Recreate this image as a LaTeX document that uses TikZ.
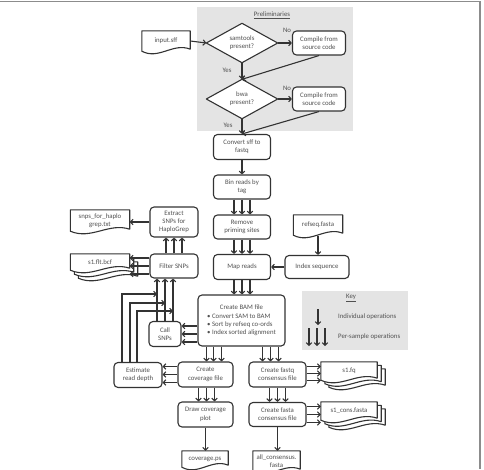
\documentclass[tikz,border=0pt]{standalone}
\usepackage{fontspec}
\setmainfont{Carlito}
\usetikzlibrary{arrows.meta,calc}
\pgfdeclarelayer{bg}
\pgfsetlayers{bg,main}
\definecolor{lc}{HTML}{333333}
\definecolor{tc}{HTML}{505050}
\definecolor{gb}{HTML}{E4E4E4}
\definecolor{fr}{HTML}{8C8C8C}
\newcommand\myfs{\fontsize{6.8}{8.3}\selectfont}
\tikzset{
 box/.style={draw=lc, line width=1.1pt, rounded corners=4pt, fill=white, align=center, inner sep=0pt, text=tc, font=\myfs},
 plain/.style={align=center, inner sep=0pt, text=tc, font=\myfs},
 arr/.style={draw=lc, line width=1.1pt, -{Straight Barb[length=2.6pt,width=5.5pt]}},
 ln/.style={draw=lc, line width=1.1pt},
 outl/.style={draw=lc, line width=1.1pt, fill=white, line join=round},
 lbl/.style={text=tc, font=\myfs, inner sep=0pt},
}
% document outline around a node, shifted by (#2,#3)
\newcommand\docout[3]{%
 \draw[outl] ([xshift=#2,yshift=#3]#1.south west) -- ([xshift=#2,yshift=#3]#1.north west) -- ([xshift=#2,yshift=#3]#1.north east) -- ([xshift=#2,yshift=#3+2pt]#1.south east) .. controls ($([xshift=#2,yshift=#3]#1.south east)!0.35!([xshift=#2,yshift=#3]#1.south west)+(0pt,9pt)$) and ($([xshift=#2,yshift=#3]#1.south east)!0.65!([xshift=#2,yshift=#3]#1.south west)+(0pt,-9pt)$) .. ([xshift=#2,yshift=#3]#1.south west) -- cycle;}
\newcommand\diaout[1]{\draw[outl] (#1.north) -- (#1.east) -- (#1.south) -- (#1.west) -- cycle;}
\begin{document}
\begin{tikzpicture}[x=1pt,y=-1pt]
\useasboundingbox (0,0) rectangle (484,469);
\begin{pgfonlayer}{bg}
 \fill[gb] (197,7) rectangle (353,131);
 \fill[gb] (302,291) rectangle (408,350);
\end{pgfonlayer}
\draw[fr, line width=1.2pt] (0,1.5) -- (480,1.5) -- (480,469);

% preliminaries
\node[lbl] (prelim) at (272,15) {\underline{Preliminaries}};
\node[plain, minimum width=48pt, minimum height=20pt] (input) at (166,41) {input.sff};
\node[plain, minimum width=71pt, minimum height=39pt] (sam) at (242,43) {samtools\\present?};
\node[box, minimum width=53pt, minimum height=24pt] (comp1) at (319,43) {Compile from\\source code};
\node[plain, minimum width=71pt, minimum height=39pt] (bwa) at (242,99) {bwa\\present?};
\node[box, minimum width=53pt, minimum height=24pt] (comp2) at (319,99) {Compile from\\source code};
\node[lbl] (no1) at (287,30) {No};
\node[lbl] (yes1) at (227,70) {Yes};
\node[lbl] (no2) at (287,88) {No};
\node[lbl] (yes2) at (228,125) {Yes};

% main column
\node[box, minimum width=57pt, minimum height=25pt] (conv) at (242,147) {Convert sff to\\fastq};
\node[box, minimum width=57pt, minimum height=24pt] (bin) at (242,187) {Bin reads by\\tag};
\node[box, minimum width=57pt, minimum height=24pt] (rem) at (242,227) {Remove\\priming sites};
\node[box, minimum width=57pt, minimum height=25pt] (map) at (242,267) {Map reads};
\node[plain, minimum width=49pt, minimum height=20pt] (refseq) at (318,225) {refseq.fasta};
\node[box, minimum width=64pt, minimum height=23pt] (index) at (317,267) {Index sequence};
\node[box, minimum width=48pt, minimum height=30pt] (extract) at (174,222) {Extract\\SNPs for\\HaploGrep};
\node[box, minimum width=48pt, minimum height=24pt] (filter) at (174,266) {Filter SNPs};
\node[plain, minimum width=59pt, minimum height=21pt] (snps) at (100,220.5) {snps\_for\_haplo\\grep.txt};
\node[plain, minimum width=59pt, minimum height=16pt] (bcf) at (100,262) {s1.flt.bcf};
\node[box, minimum width=32pt, minimum height=25pt] (call) at (165,334) {Call\\SNPs};
\node[box, minimum width=87pt, minimum height=51pt] (bam) at (241.5,320.5) {\begin{tabular}{@{}l@{}}\multicolumn{1}{@{}c@{}}{Create BAM file}\\\textbullet{} Convert SAM to BAM\\\textbullet{} Sort by refseq co-ords\\\textbullet{} Index sorted alignment\end{tabular}};
\node[box, minimum width=55pt, minimum height=25pt] (cov) at (205.5,374.5) {Create\\coverage file};
\node[box, minimum width=57pt, minimum height=25pt] (fastq) at (277.5,374.5) {Create fastq\\consensus file};
\node[box, minimum width=57pt, minimum height=24pt] (fasta) at (277.5,414.5) {Create fasta\\consensus file};
\node[box, minimum width=55pt, minimum height=25pt] (drawp) at (205.5,414.5) {Draw coverage\\plot};
\node[box, minimum width=48pt, minimum height=25pt] (est) at (138,375) {Estimate\\read depth};
\node[plain, minimum width=46pt, minimum height=16pt] (covps) at (205,459) {coverage.ps};
\node[plain, minimum width=47pt, minimum height=20pt] (allc) at (276.5,461) {all\_consensus.\\fasta};
\node[plain, minimum width=56pt, minimum height=18pt] (s1fq) at (349,371) {s1.fq};
\node[plain, minimum width=56pt, minimum height=18pt] (s1cons) at (349,411) {s1\_cons.fasta};

% key
\node[lbl] (key) at (351,298) {\underline{Key}};
\node[lbl, anchor=west] (indiv) at (338,317) {Individual operations};
\node[lbl, anchor=west] (persample) at (338,337) {Per-sample operations};
\coordinate (ka1) at (318,309);
\coordinate (kb1) at (318,325);
\foreach \i/\xx in {1/309,2/317,3/325}{\coordinate (kc\i) at (\xx,328); \coordinate (kd\i) at (\xx,346);}

% outlines on background layer
\begin{pgfonlayer}{bg}
 \diaout{sam}
 \diaout{bwa}
 \docout{input}{0pt}{0pt}
 \docout{snps}{0pt}{0pt}
 \docout{refseq}{0pt}{0pt}
 \docout{covps}{0pt}{0pt}
 \docout{allc}{0pt}{0pt}
 \docout{bcf}{8pt}{-8pt}
 \docout{bcf}{4pt}{-4pt}
 \docout{bcf}{0pt}{0pt}
 \docout{s1fq}{8pt}{-7pt}
 \docout{s1fq}{4pt}{-3.5pt}
 \docout{s1fq}{0pt}{0pt}
 \docout{s1cons}{8pt}{-7pt}
 \docout{s1cons}{4pt}{-3.5pt}
 \docout{s1cons}{0pt}{0pt}
\end{pgfonlayer}

% single connectors
\draw[arr] (input.east) -- (sam.west);
\draw[arr] (sam.east) -- (comp1.west);
\draw[arr] (sam.south) -- (bwa.north);
\draw[arr] (comp1.south) -- (bwa.north);
\draw[arr] (bwa.east) -- (comp2.west);
\draw[arr] (bwa.south) -- (conv.north);
\draw[arr] (comp2.south) -- (conv.north);
\draw[arr] (conv.south) -- (bin.north);
\draw[arr] (extract.west) -- (extract.west -| snps.east);
\draw[arr] (refseq.south |- {(0,236)}) -- (refseq.south |- index.north);
\draw[arr] (index.west) -- (map.east);
\draw[arr] (drawp.south) -- (drawp.south |- covps.north);
\draw[arr] (fasta.south) -- (fasta.south |- allc.north);
\draw[arr] (ka1) -- (kb1);
\foreach \i in {1,2,3}{\draw[arr] (kc\i) -- (kd\i);}

% triple connectors
\foreach \d in {-8,0,8}{
 \draw[arr] ([xshift=\d pt]bin.south) -- ([xshift=\d pt]rem.north);
 \draw[arr] ([xshift=\d pt]rem.south) -- ([xshift=\d pt]map.north);
 \draw[arr] ([xshift=\d pt]map.south) -- ($(map.south|-bam.north)+(\d pt,0pt)$);
 \draw[arr] ($(fastq.south)+(\d pt,0pt)$) -- ($(fasta.north)+(\d pt,0pt)$);
 \draw[arr] ($(bam.west|-call.east)+(0pt,\d pt)$) -- ($(call.east)+(0pt,\d pt)$);
 \draw[arr] ($(filter.north)+(\d pt,0pt)$) -- ($(extract.south)+(\d pt,0pt)$);
 \draw[arr] ($(call.north)+(\d pt,0pt)$) -- ($(call.north|-filter.south)+(\d pt,0pt)$);
 \draw[arr] ($(filter.west)+(0pt,\d pt)$) -- ($(filter.west-|bcf.east)+(0pt,\d pt)$);
 \draw[arr] ($(cov.west)+(0pt,\d pt)$) -- ($(cov.west-|est.east)+(0pt,\d pt)$);
 \draw[arr] ($(fasta.east)+(0pt,\d pt)$) -- ($(fasta.east-|s1cons.west)+(0pt,\d pt)$);
}
\foreach \d in {1,8,16}{
 \draw[arr] ($(cov.north|-bam.south)+(\d pt,0pt)$) -- ($(cov.north)+(\d pt,0pt)$);
}
\foreach \d in {-15,-7,1}{
 \draw[arr] ($(fastq.north|-bam.south)+(\d pt,0pt)$) -- ($(fastq.north)+(\d pt,0pt)$);
}
\foreach \d in {-7,1,9}{
 \draw[arr] ($(cov.south)+(\d pt,0pt)$) -- ($(drawp.north)+(\d pt,0pt)$);
}
\foreach \d in {8,1,-6}{
 \draw[arr] ($(fastq.east)+(0pt,\d pt)$) -- ($(fastq.east-|s1fq.west)+(0pt,\d pt)$);
}
% estimate read depth feeding SNP calling lines
\coordinate (j1) at (157,294);
\coordinate (j2) at (165,303);
\coordinate (j3) at (173,311);
\draw[arr] ([xshift=-16pt]est.north) |- (j1);
\draw[arr] ([xshift=-8pt]est.north) |- (j2);
\draw[arr] ([xshift=-1pt]est.north) |- (j3);
\end{tikzpicture}
\end{document}
